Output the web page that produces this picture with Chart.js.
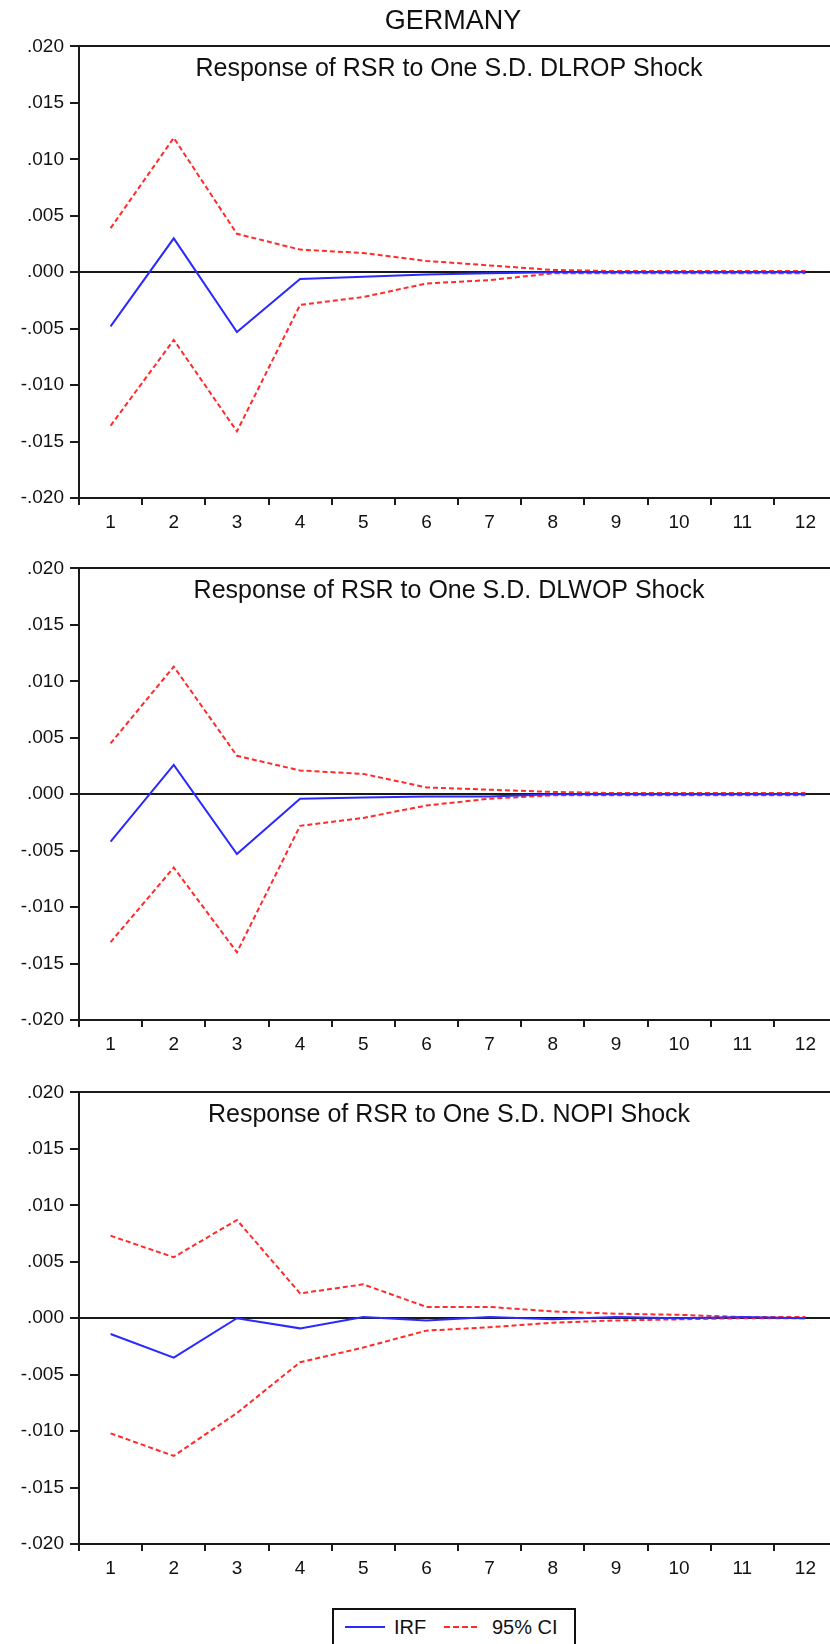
<!DOCTYPE html>
<html>
<head>
<meta charset="utf-8">
<title>Germany - Impulse responses</title>
<script src="https://cdn.jsdelivr.net/npm/chart.js@4.4.1/dist/chart.umd.min.js"></script>
<style>
  html, body { margin: 0; padding: 0; background: #fff; overflow: hidden; width: 830px; height: 1644px; }
  body { position: relative; font-family: "Liberation Sans", Arial, sans-serif; color: #111; }
  canvas { position: absolute; left: 0; }
  #country { position: absolute; left: 0; width: 906px; top: 6px; text-align: center; font-size: 27px; line-height: 28px; }
  #legend { position: absolute; left: 332px; top: 1608px; width: 240px; height: 50px; border: 2px solid #111; }
  .lg { position: absolute; }
  .lg-text { top: 6px; font-size: 20px; line-height: 22px; }
</style>
</head>
<body>

<canvas id="irf-1" width="837" height="514"></canvas>
<canvas id="irf-2" width="837" height="514"></canvas>
<canvas id="irf-3" width="837" height="514"></canvas>

<div id="country">GERMANY</div>

<div id="legend">
  <div class="lg" style="left:11px; top:16px; width:40px; height:2px; background:#2a2aff;"></div>
  <div class="lg lg-text" style="left:60px;">IRF</div>
  <div class="lg" style="left:110px; top:16px; width:36px; height:2px; background:repeating-linear-gradient(to right, #ff2a2a 0 6px, transparent 6px 9px);"></div>
  <div class="lg lg-text" style="left:158px;">95% CI</div>
</div>

<script>
/* ---------- DATA ---------- */
const steps = ['1', '2', '3', '4', '5', '6', '7', '8', '9', '10', '11', '12'];

// Response of RSR to One S.D. DLROP Shock
const irfDLROP   = [-0.0048, 0.0030, -0.0053, -0.0006, -0.0004, -0.0002, -0.0001, 0.0000, 0.0000, 0.0000, 0.0000, 0.0000];
const upperDLROP = [0.0039, 0.0119, 0.0034, 0.0020, 0.0017, 0.0010, 0.0006, 0.0002, 0.0001, 0.0001, 0.0001, 0.0001];
const lowerDLROP = [-0.0136, -0.0060, -0.0141, -0.0029, -0.0022, -0.0010, -0.0007, -0.0001, -0.0001, -0.0001, -0.0001, -0.0001];

// Response of RSR to One S.D. DLWOP Shock
const irfDLWOP   = [-0.0042, 0.0026, -0.0053, -0.0004, -0.0003, -0.0002, -0.0002, 0.0000, 0.0000, 0.0000, 0.0000, 0.0000];
const upperDLWOP = [0.0045, 0.0113, 0.0034, 0.0021, 0.0018, 0.0006, 0.0004, 0.0002, 0.0001, 0.0001, 0.0001, 0.0001];
const lowerDLWOP = [-0.0131, -0.0065, -0.0140, -0.0028, -0.0021, -0.0010, -0.0004, -0.0001, -0.0001, -0.0001, -0.0001, -0.0001];

// Response of RSR to One S.D. NOPI Shock
const irfNOPI   = [-0.0014, -0.0035, 0.0000, -0.0009, 0.0001, -0.0002, 0.0001, -0.0001, 0.0001, 0.0000, 0.0001, 0.0000];
const upperNOPI = [0.0073, 0.0054, 0.0087, 0.0022, 0.0030, 0.0010, 0.0010, 0.0006, 0.0004, 0.0003, 0.0001, 0.0001];
const lowerNOPI = [-0.0102, -0.0122, -0.0084, -0.0039, -0.0026, -0.0011, -0.0008, -0.0004, -0.0002, -0.0001, 0.0000, 0.0000];

const yMin = -0.02;
const yMax = 0.02;
const yStep = 0.005;

/* ---------- STYLE ---------- */
const FONT = '"Liberation Sans", Arial, sans-serif';
const AXIS = '#1a1a1a';
const BLUE = '#2a2aff';
const RED = '#ff2a2a';
const PLOT_H = 455;
const PAD_TOP = 14;

const panels = [
  { id: 'irf-1', plotTop: 46,   title: 'Response of RSR to One S.D. DLROP Shock', irf: irfDLROP, upper: upperDLROP, lower: lowerDLROP },
  { id: 'irf-2', plotTop: 568,  title: 'Response of RSR to One S.D. DLWOP Shock', irf: irfDLWOP, upper: upperDLWOP, lower: lowerDLWOP },
  { id: 'irf-3', plotTop: 1092, title: 'Response of RSR to One S.D. NOPI Shock',  irf: irfNOPI,  upper: upperNOPI,  lower: lowerNOPI }
];

/* ---------- HELPERS ---------- */
// EViews style tick labels: .020, -.005, .000
function fmtTick(v) {
  if (Math.abs(v) < 1e-9) return '.000';
  return v.toFixed(3).replace('0.', '.');
}

function isBlackLine(v) {
  return Math.abs(v) < 1e-9 || Math.abs(v - yMax) < 1e-9;
}

// panel heading drawn inside the plot area
const panelTitle = {
  id: 'panelTitle',
  afterDraw(chart, args, opts) {
    const ctx = chart.ctx;
    ctx.save();
    ctx.font = '25px ' + FONT;
    ctx.fillStyle = '#111';
    ctx.textAlign = 'center';
    ctx.textBaseline = 'alphabetic';
    ctx.fillText(opts.text, 449, chart.chartArea.top + 30);
    ctx.restore();
  }
};

/* ---------- INIT CHARTS ---------- */
function initPanel(p) {
  const canvas = document.getElementById(p.id);
  canvas.style.top = (p.plotTop - PAD_TOP) + 'px';

  const chart = new Chart(canvas.getContext('2d'), {
    type: 'line',
    data: {
      labels: steps,
      datasets: [
        { label: 'IRF', data: p.irf, borderColor: BLUE, borderWidth: 2, pointRadius: 0, tension: 0, fill: false },
        { label: 'upper', data: p.upper, borderColor: RED, borderWidth: 2, borderDash: [5, 3], pointRadius: 0, tension: 0, fill: false },
        { label: 'lower', data: p.lower, borderColor: RED, borderWidth: 2, borderDash: [5, 3], pointRadius: 0, tension: 0, fill: false }
      ]
    },
    options: {
      responsive: false,
      animation: false,
      devicePixelRatio: 1,
      layout: { padding: { top: PAD_TOP, left: 0, right: 0, bottom: 0 } },
      plugins: {
        legend: { display: false },
        tooltip: { enabled: false },
        panelTitle: { text: p.title }
      },
      scales: {
        x: {
          type: 'category',
          offset: true,
          grid: { offset: true, drawOnChartArea: false, drawTicks: true, tickLength: 7, tickColor: AXIS, lineWidth: 2 },
          border: { color: AXIS, width: 2 },
          ticks: { color: '#111', font: { family: FONT, size: 19 }, padding: 6, maxRotation: 0, autoSkip: false },
          afterFit: a => { a.height = 45; }
        },
        y: {
          min: yMin,
          max: yMax,
          grid: {
            drawOnChartArea: true,
            color: c => (c.tick && isBlackLine(c.tick.value)) ? AXIS : 'rgba(0,0,0,0)',
            tickColor: AXIS,
            lineWidth: 2,
            tickLength: 9
          },
          border: { color: AXIS, width: 2 },
          ticks: { stepSize: yStep, callback: v => fmtTick(v), color: '#111', font: { family: FONT, size: 19 }, padding: 6 },
          afterFit: a => { a.width = 79; }
        }
      }
    },
    plugins: [panelTitle]
  });

  // keep the plot box exactly where the reference has it
  const area = chart.chartArea;
  const dh = PLOT_H - (area.bottom - area.top);
  if (Math.abs(dh) > 0.5) {
    chart.resize(canvas.width, canvas.height + dh);
  }
  canvas.style.top = (p.plotTop - chart.chartArea.top) + 'px';
  return chart;
}

panels.forEach(initPanel);
</script>
</body>
</html>
